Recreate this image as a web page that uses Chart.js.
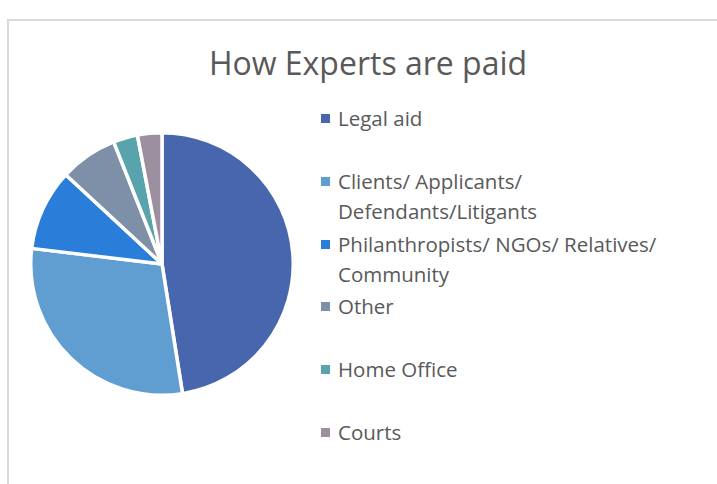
<!DOCTYPE html>
<html lang="en">
<head>
  <meta charset="UTF-8">
  <title>How Experts are paid</title>
  <script src="https://cdn.jsdelivr.net/npm/chart.js"></script>
  <style>
    body { margin: 0; background: #fff; font-family: "Open Sans", sans-serif; color: #595959; }
    #frame {
      position: absolute; left: 7px; top: 19px; width: 800px; height: 600px;
      border-left: 2px solid #d9d9d9; border-top: 2px solid #d9d9d9;
    }
    #title {
      position: absolute; left: 0; width: 736px; top: 38px;
      text-align: center; font-size: 32px; line-height: 50px;
    }
    #pie { position: absolute; left: 29px; top: 131px; }
    #legend { position: absolute; left: 321px; top: 103px; width: 390px; }
    .item { position: absolute; left: 0; font-size: 20.5px; line-height: 30px; white-space: pre-line; padding-left: 17px; }
    .item .box { position: absolute; left: 0; top: 11px; width: 9px; height: 9px; }
  </style>
</head>
<body>
  <div id="frame"></div>
  <div id="title">How Experts are paid</div>
  <canvas id="pie" width="266" height="266"></canvas>
  <div id="legend"></div>

  <script>
    // share of experts by source of payment (%)
    const categories = [
      'Legal aid',
      'Clients/ Applicants/\nDefendants/Litigants',
      'Philanthropists/ NGOs/ Relatives/\nCommunity',
      'Other',
      'Home Office',
      'Courts'
    ];
    const shares = [47.5, 29.4, 10.0, 7.1, 3.0, 3.0];
    const colours = ['#4866ad', '#609dd1', '#2a7dd8', '#7e8fa8', '#59a3ac', '#9c8fa0'];

    const ctx = document.getElementById('pie').getContext('2d');
    const chart = new Chart(ctx, {
      type: 'pie',
      data: {
        labels: categories,
        datasets: [{
          data: shares,
          backgroundColor: colours,
          borderColor: '#ffffff',
          borderWidth: 3.5
        }]
      },
      options: {
        responsive: false,
        animation: false,
        layout: { padding: 0 },
        plugins: {
          legend: { display: false },
          title: { display: false },
          tooltip: { enabled: false }
        }
      }
    });

    // legend on the right, one slot per category
    const legend = document.getElementById('legend');
    chart.data.labels.forEach((label, i) => {
      const item = document.createElement('div');
      item.className = 'item';
      item.style.top = Math.round(i * 62.8) + 'px';
      const box = document.createElement('span');
      box.className = 'box';
      box.style.background = colours[i];
      item.appendChild(box);
      item.appendChild(document.createTextNode(label));
      legend.appendChild(item);
    });
  </script>
</body>
</html>
